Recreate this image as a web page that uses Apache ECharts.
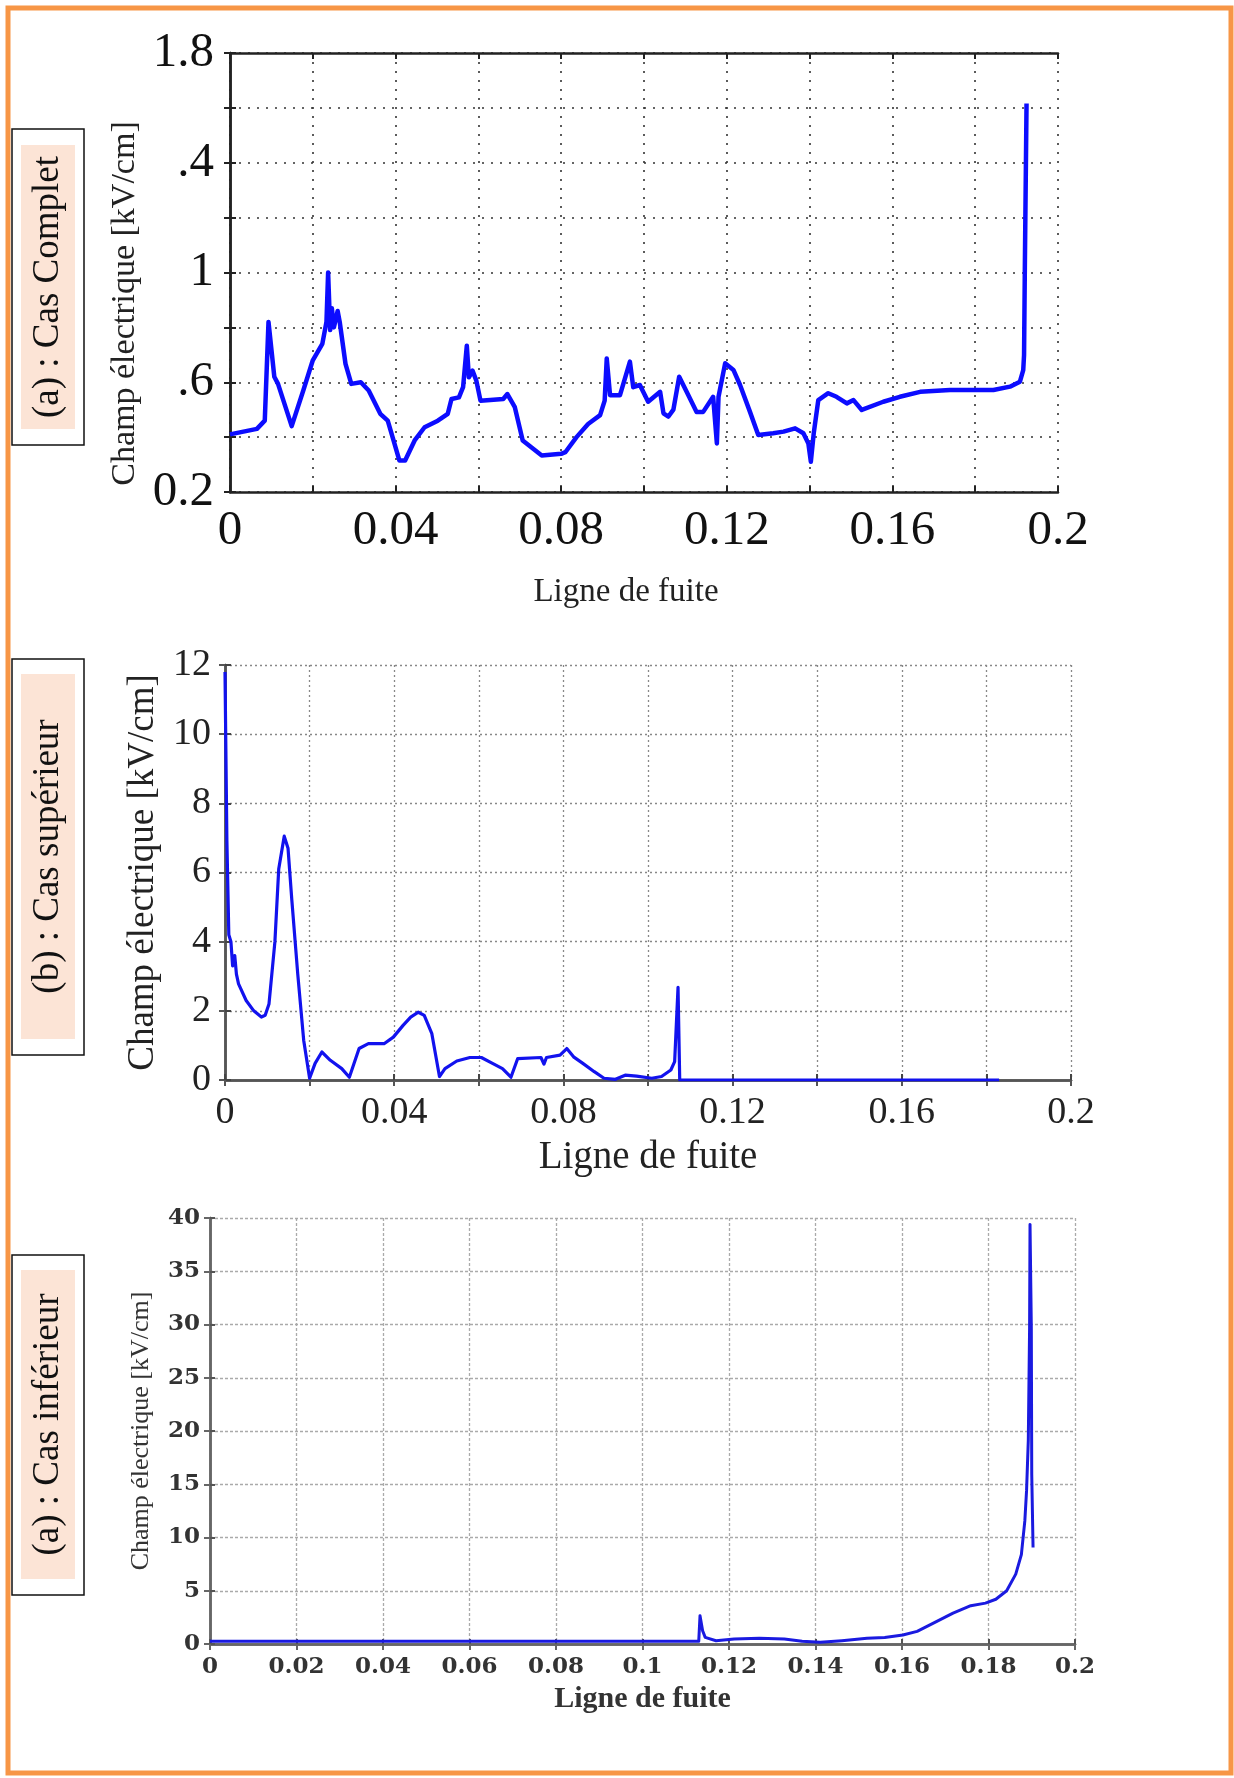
<!DOCTYPE html>
<html>
<head>
<meta charset="utf-8">
<title>Champ électrique le long de la ligne de fuite</title>
<script src="https://cdn.jsdelivr.net/npm/echarts@6/dist/echarts.min.js"></script>
<style>
  html, body { margin: 0; padding: 0; background: #ffffff; }
  #chart { width: 1234px; height: 1778px; }
</style>
</head>
<body>
<div id="chart"></div>
<script>
// ---------- (a) Cas Complet ----------
const completX = [0, 0.0065, 0.0084, 0.0093, 0.0107, 0.0116, 0.0149, 0.0177, 0.020, 0.0223,
  0.0233, 0.0237, 0.0242, 0.0246, 0.0251, 0.0260, 0.0265, 0.0279, 0.0293, 0.0316,
  0.0335, 0.0363, 0.0381, 0.0395, 0.0409, 0.0423, 0.0446, 0.047, 0.0502, 0.0526,
  0.0535, 0.0553, 0.0563, 0.0572, 0.0577, 0.0586, 0.0595, 0.0605, 0.066, 0.067,
  0.0688, 0.0707, 0.0753, 0.080, 0.081, 0.0837, 0.0865, 0.0894, 0.0905, 0.091,
  0.0918, 0.0942, 0.0966, 0.0974, 0.099, 0.101, 0.1039, 0.1047, 0.1059, 0.1071,
  0.1085, 0.1103, 0.1127, 0.1143, 0.1167, 0.1176, 0.118, 0.1196, 0.1216, 0.1232,
  0.1256, 0.1276, 0.1312, 0.1337, 0.1365, 0.1385, 0.1397, 0.1403, 0.141, 0.1421,
  0.1445, 0.1465, 0.149, 0.1506, 0.1526, 0.1578, 0.1618, 0.1667, 0.1739, 0.1844,
  0.1884, 0.1908, 0.1916, 0.1918, 0.192, 0.1924];
const completY = [0.41, 0.43, 0.46, 0.82, 0.62, 0.594, 0.44, 0.57, 0.68, 0.74,
  0.82, 1.0, 0.79, 0.87, 0.80, 0.86, 0.82, 0.667, 0.594, 0.60,
  0.57, 0.485, 0.46, 0.388, 0.315, 0.315, 0.388, 0.436, 0.46, 0.485,
  0.539, 0.545, 0.582, 0.733, 0.618, 0.642, 0.606, 0.533, 0.539, 0.557,
  0.509, 0.388, 0.333, 0.339, 0.345, 0.40, 0.448, 0.48, 0.533, 0.687,
  0.553, 0.553, 0.675, 0.582, 0.59, 0.529, 0.565, 0.487, 0.475, 0.50,
  0.62, 0.565, 0.492, 0.492, 0.547, 0.377, 0.547, 0.669, 0.645, 0.59,
  0.492, 0.408, 0.414, 0.42, 0.432, 0.414, 0.377, 0.31, 0.414, 0.535,
  0.56, 0.547, 0.523, 0.535, 0.499, 0.529, 0.547, 0.565, 0.572, 0.572,
  0.584, 0.602, 0.644, 0.699, 1.033, 1.616];

// ---------- (b) Cas supérieur ----------
const supX = [0, 0.00045, 0.0009, 0.0014, 0.0018, 0.0023, 0.0027, 0.0032, 0.005, 0.0068,
  0.0086, 0.0095, 0.0104, 0.0118, 0.0127, 0.014, 0.0149, 0.0158, 0.0172, 0.0186,
  0.020, 0.0213, 0.0229, 0.0249, 0.0276, 0.0294, 0.0317, 0.0339, 0.0376, 0.0398,
  0.0421, 0.0439, 0.0457, 0.0471, 0.0489, 0.0507, 0.052, 0.0548, 0.0579, 0.0606,
  0.0629, 0.0656, 0.0676, 0.0692, 0.0747, 0.0754, 0.076, 0.0792, 0.0808, 0.0824,
  0.0846, 0.0873, 0.0896, 0.0923, 0.0946, 0.0973, 0.1009, 0.1032, 0.1054, 0.1063,
  0.1071, 0.1075, 0.183];
const supY = [11.8, 6.9, 4.2, 4.0, 3.3, 3.6, 3.06, 2.78, 2.3, 2.0,
  1.82, 1.87, 2.2, 4.0, 6.1, 7.05, 6.7, 5.2, 3.06, 1.15,
  0.05, 0.48, 0.81, 0.57, 0.33, 0.08, 0.91, 1.05, 1.05, 1.24,
  1.58, 1.82, 1.96, 1.87, 1.34, 0.1, 0.33, 0.55, 0.65, 0.65,
  0.5, 0.33, 0.08, 0.62, 0.65, 0.46, 0.65, 0.72, 0.91, 0.67,
  0.48, 0.24, 0.05, 0.02, 0.14, 0.11, 0.05, 0.1, 0.29, 0.53,
  2.68, 0, 0];

// ---------- (a) Cas inférieur ----------
const infX = [0, 0.113, 0.1133, 0.1139, 0.1145, 0.117, 0.1212, 0.127, 0.1328, 0.1369,
  0.1411, 0.1461, 0.1519, 0.156, 0.1602, 0.1635, 0.1676, 0.1718, 0.1759, 0.1793,
  0.1817, 0.1842, 0.1863, 0.1876, 0.1884, 0.1888, 0.1892, 0.1895, 0.1896, 0.1899,
  0.1900, 0.1903];
const infY = [0.25, 0.25, 2.66, 1.25, 0.62, 0.31, 0.47, 0.53, 0.47, 0.25,
  0.16, 0.31, 0.53, 0.62, 0.84, 1.19, 2.03, 2.9, 3.6, 3.84,
  4.2, 5.0, 6.56, 8.4, 11.56, 14.4, 19.1, 29.7, 39.4, 29.7,
  15.9, 9.06];

// tick labels
const xTicksSparse = ['0', '', '0.04', '', '0.08', '', '0.12', '', '0.16', '', '0.2'];
const xTicksFull = ['0', '0.02', '0.04', '0.06', '0.08', '0.1', '0.12', '0.14', '0.16', '0.18', '0.2'];
const yTicksComplet = ['0.2', '', '.6', '', '1', '', '.4', '', '1.8'];
const yTicksSup = ['0', '2', '4', '6', '8', '10', '12'];
const yTicksInf = ['0', '5', '10', '15', '20', '25', '30', '35', '40'];

const axisTitleY = 'Champ électrique [kV/cm]';
const axisTitleX = 'Ligne de fuite';
const panelTitles = ['(a) : Cas Complet', '(b) : Cas supérieur', '(a) : Cas inférieur'];

const SERIF = 'Liberation Serif';

function pairs(xs, ys) { return xs.map((x, i) => [x, ys[i]]); }
function pick(list, min, step) {
  return v => { const k = Math.round((v - min) / step); return list[k] !== undefined ? list[k] : ''; };
}

// frame axes (top / right) carrying inward ticks only
function frameX(gridIndex, tickColor, lw) {
  return {
    gridIndex, type: 'value', position: 'top', min: 0, max: 0.2, interval: 0.02,
    axisLine: { show: true, lineStyle: { color: tickColor, width: lw } },
    axisTick: { show: true, inside: true, length: 6, lineStyle: { color: tickColor, width: 2 } },
    axisLabel: { show: false }, splitLine: { show: false }
  };
}
function frameY(gridIndex, min, max, interval, tickColor, lw) {
  return {
    gridIndex, type: 'value', position: 'right', min, max, interval,
    axisLine: { show: true, lineStyle: { color: tickColor, width: lw } },
    axisTick: { show: true, inside: true, length: 6, lineStyle: { color: tickColor, width: 2 } },
    axisLabel: { show: false }, splitLine: { show: false }
  };
}

const chart = echarts.init(document.getElementById('chart'), null, { renderer: 'canvas' });

const option = {
  animation: false,
  backgroundColor: '#ffffff',
  grid: [
    { left: 230, top: 53, width: 828, height: 439 },
    { left: 225, top: 665, width: 846, height: 415 },
    { left: 210, top: 1218, width: 865, height: 426 }
  ],
  xAxis: [
    { // panel 1
      gridIndex: 0, type: 'value', min: 0, max: 0.2, interval: 0.02,
      axisLine: { lineStyle: { color: '#222', width: 2.5 } },
      axisTick: { inside: true, length: 6, lineStyle: { color: '#222', width: 2 } },
      axisLabel: { margin: 15, fontFamily: SERIF, fontSize: 49, color: '#111', formatter: pick(xTicksSparse, 0, 0.02) },
      splitLine: { show: true, lineStyle: { color: '#333', width: 1.6, type: [2, 7] } },
      name: axisTitleX, nameLocation: 'middle', nameGap: 84,
      nameTextStyle: { fontFamily: SERIF, fontSize: 33, color: '#222', padding: [0, 36, 0, 0] }
    },
    frameX(0, '#222', 2.5),
    { // panel 2
      gridIndex: 1, type: 'value', min: 0, max: 0.2, interval: 0.02,
      axisLine: { lineStyle: { color: '#555', width: 2.5 } },
      axisTick: { inside: true, length: 6, lineStyle: { color: '#444', width: 2 } },
      axisLabel: { margin: 14, fontFamily: SERIF, fontSize: 38, color: '#222', formatter: pick(xTicksSparse, 0, 0.02) },
      splitLine: { show: true, lineStyle: { color: '#888', width: 1.3, type: [2, 3] } },
      name: axisTitleX, nameLocation: 'middle', nameGap: 58,
      nameTextStyle: { fontFamily: SERIF, fontSize: 39, color: '#222' }
    },
    frameX(1, '#555', 2.5),
    { // panel 3
      gridIndex: 2, type: 'value', min: 0, max: 0.2, interval: 0.02,
      axisLine: { lineStyle: { color: '#666', width: 2.5 } },
      axisTick: { inside: true, length: 5, lineStyle: { color: '#555', width: 2 } },
      axisLabel: { margin: 12, fontFamily: 'DejaVu Serif', fontWeight: 'bold', fontSize: 23, color: '#333', formatter: pick(xTicksFull, 0, 0.02) },
      splitLine: { show: true, lineStyle: { color: '#aaa', width: 1.3, type: [3, 2] } },
      name: axisTitleX, nameLocation: 'middle', nameGap: 40,
      nameTextStyle: { fontFamily: SERIF, fontWeight: 'bold', fontSize: 30, color: '#333' }
    },
    frameX(2, '#666', 2.5)
  ],
  yAxis: [
    { // panel 1
      gridIndex: 0, type: 'value', min: 0.2, max: 1.8, interval: 0.2,
      axisLine: { show: true, lineStyle: { color: '#222', width: 2.5 } },
      axisTick: { show: true, inside: true, length: 6, lineStyle: { color: '#222', width: 2 } },
      axisLabel: { margin: 16, fontFamily: SERIF, fontSize: 49, color: '#111', padding: [12, 0, 0, 0], formatter: pick(yTicksComplet, 0.2, 0.2) },
      splitLine: { show: true, lineStyle: { color: '#333', width: 1.6, type: [2, 7] } },
      name: axisTitleY, nameLocation: 'middle', nameRotate: 90, nameGap: 62,
      nameTextStyle: { fontFamily: SERIF, fontSize: 34, color: '#222', padding: [0, 62, 0, 0] }
    },
    frameY(0, 0.2, 1.8, 0.2, '#222', 2.5),
    { // panel 2
      gridIndex: 1, type: 'value', min: 0, max: 12, interval: 2,
      axisLine: { show: true, lineStyle: { color: '#555', width: 2.5 } },
      axisTick: { show: true, inside: true, length: 6, lineStyle: { color: '#444', width: 2 } },
      axisLabel: { margin: 14, fontFamily: SERIF, fontSize: 38, color: '#222', formatter: pick(yTicksSup, 0, 2) },
      splitLine: { show: true, lineStyle: { color: '#888', width: 1.3, type: [2, 3] } },
      name: axisTitleY, nameLocation: 'middle', nameRotate: 90, nameGap: 58,
      nameTextStyle: { fontFamily: SERIF, fontSize: 37, color: '#222' }
    },
    frameY(1, 0, 12, 2, '#555', 2.5),
    { // panel 3
      gridIndex: 2, type: 'value', min: 0, max: 40, interval: 5,
      axisLine: { show: true, lineStyle: { color: '#666', width: 2.5 } },
      axisTick: { show: true, inside: true, length: 5, lineStyle: { color: '#555', width: 2 } },
      axisLabel: { margin: 10, fontFamily: 'DejaVu Serif', fontWeight: 'bold', fontSize: 23, color: '#333', formatter: pick(yTicksInf, 0, 5) },
      splitLine: { show: true, lineStyle: { color: '#aaa', width: 1.3, type: [3, 2] } },
      name: axisTitleY, nameLocation: 'middle', nameRotate: 90, nameGap: 56,
      nameTextStyle: { fontFamily: SERIF, fontSize: 26, color: '#333' }
    },
    frameY(2, 0, 40, 5, '#666', 2.5)
  ],
  series: [
    {
      name: panelTitles[0], type: 'line', xAxisIndex: 0, yAxisIndex: 0,
      data: pairs(completX, completY), showSymbol: false, smooth: false,
      lineStyle: { color: '#0c0cff', width: 4.5, join: 'round' }, z: 5
    },
    {
      name: panelTitles[1], type: 'line', xAxisIndex: 2, yAxisIndex: 2,
      data: pairs(supX, supY), showSymbol: false, smooth: false,
      lineStyle: { color: '#1212ee', width: 3.2, join: 'round' }, z: 5
    },
    {
      name: panelTitles[2], type: 'line', xAxisIndex: 4, yAxisIndex: 4,
      data: pairs(infX, infY), showSymbol: false, smooth: false,
      lineStyle: { color: '#1a1ae0', width: 3, join: 'round' }, z: 5
    }
  ],
  graphic: [
    { // orange page frame
      type: 'rect', shape: { x: 8, y: 8, width: 1223, height: 1765 },
      style: { fill: 'none', stroke: '#f79646', lineWidth: 5 }, z: 10
    },
    // side panel captions
    ...[[129, 445, 145, 429], [659, 1055, 674, 1039], [1255, 1595, 1270, 1579]].flatMap((b, i) => [
      { type: 'rect', shape: { x: 12, y: b[0], width: 72, height: b[1] - b[0] },
        style: { fill: '#ffffff', stroke: '#111', lineWidth: 1.5 }, z: 10 },
      { type: 'rect', shape: { x: 21, y: b[2], width: 54, height: b[3] - b[2] },
        style: { fill: '#fce4d6', stroke: 'none' }, z: 11 },
      { type: 'text', x: 48, y: (b[2] + b[3]) / 2, rotation: Math.PI / 2,
        style: { text: panelTitles[i], font: '37px "Liberation Serif"', fill: '#111',
                 textAlign: 'center', textVerticalAlign: 'middle' }, z: 12 }
    ])
  ]
};

chart.setOption(option);
</script>
</body>
</html>
